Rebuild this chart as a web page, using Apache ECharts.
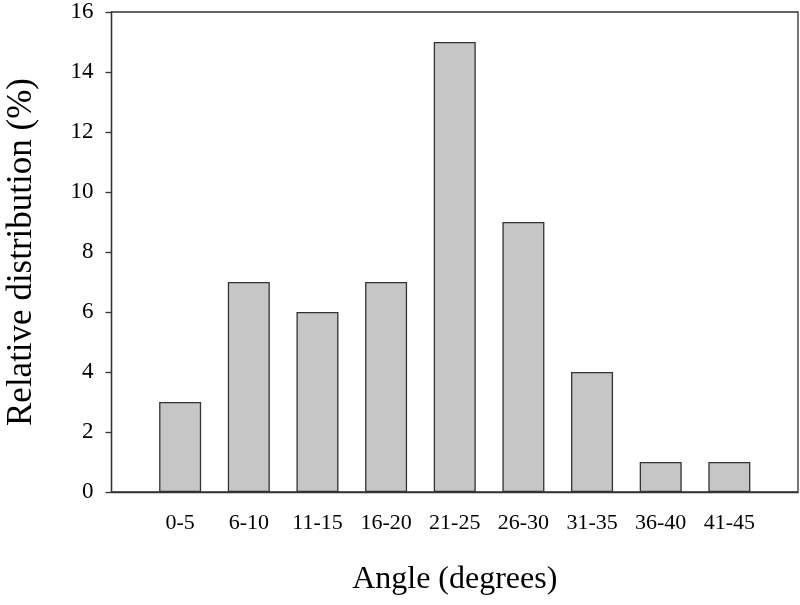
<!DOCTYPE html>
<html>
<head>
<meta charset="utf-8">
<script src="https://cdn.jsdelivr.net/npm/echarts@6/dist/echarts.min.js"></script>
<style>html,body{margin:0;padding:0;background:#fff}#c{width:800px;height:605px}</style>
</head>
<body>
<div id="c"></div>
<script>
const categories = ['0-5','6-10','11-15','16-20','21-25','26-30','31-35','36-40','41-45'];
const values = [3, 7, 6, 7, 15, 9, 4, 1, 1];
const yTicks = [0, 2, 4, 6, 8, 10, 12, 14, 16];

// pad with empty slots at both ends to reproduce the offset layout
const axisCats = [''].concat(categories, ['']);
const seriesData = [null].concat(values, [null]);

const chart = echarts.init(document.getElementById('c'));
chart.setOption({
  animation: false,
  grid: { left: 111.5, right: 2, top: 12, bottom: 113, outerBoundsMode: 'none', containLabel: false, show: true, borderColor: '#333', borderWidth: 1.3, backgroundColor: 'transparent' },
  xAxis: {
    type: 'category',
    data: axisCats,
    boundaryGap: false,
    name: 'Angle (degrees)',
    nameLocation: 'middle',
    nameGap: 72,
    nameTextStyle: { fontFamily: 'Liberation Serif', fontSize: 32, color: '#000' },
    axisLine: { lineStyle: { color: '#333', width: 1.3 } },
    axisTick: { show: false },
    splitLine: { show: false },
    axisLabel: { fontFamily: 'Liberation Serif', fontSize: 22, color: '#000', margin: 20, interval: 0 }
  },
  yAxis: {
    type: 'value',
    min: yTicks[0],
    max: yTicks[yTicks.length - 1],
    interval: 2,
    name: 'Relative distribution (%)',
    nameLocation: 'middle',
    nameGap: 72,
    nameTextStyle: { fontFamily: 'Liberation Serif', fontSize: 35, color: '#000' },
    axisLine: { show: true, lineStyle: { color: '#333', width: 1.3 } },
    axisTick: { show: true, length: 6, lineStyle: { color: '#333', width: 1.3 } },
    splitLine: { show: false },
    axisLabel: { fontFamily: 'Liberation Serif', fontSize: 23, color: '#000', margin: 18 }
  },
  series: [{
    type: 'bar',
    data: seriesData,
    barWidth: 42,
    itemStyle: { color: '#c6c6c6', borderColor: '#333', borderWidth: 1.3 }
  }]
});
</script>
</body>
</html>
